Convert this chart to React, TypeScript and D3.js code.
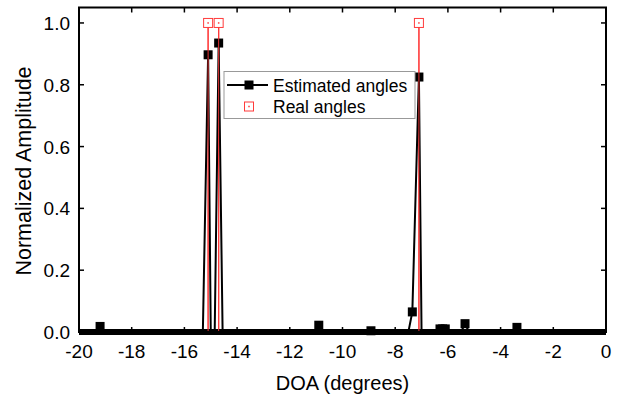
import React from "react";
import * as d3 from "d3";

// Estimated angles (sparse samples of the spectrum)
const estX = [-20, -19.35, -19.2, -19.05, -15.3, -15.1, -15.0, -14.85, -14.7, -14.55, -11.05, -10.9, -10.75, -9.05, -8.92, -8.8, -7.5, -7.35, -7.1, -7.0, -6.4, -6.3, -6.2, -6.1, -6.0, -5.5, -5.35, -5.2, -3.5, -3.38, -3.25, 0];
const estY = [0, 0, 0.018, 0, 0, 0.897, 0, 0, 0.935, 0, 0, 0.022, 0, 0, 0.004, 0, 0, 0.065, 0.825, 0, 0, 0.01, 0.01, 0.01, 0, 0, 0.027, 0, 0, 0.015, 0, 0];

// Real angles
const realX = [-15.1, -14.7, -7.1];
const realY = [1, 1, 1];

const xTicks = [-20, -18, -16, -14, -12, -10, -8, -6, -4, -2, 0];
const yTicks = [0, 0.2, 0.4, 0.6, 0.8, 1.0];

const seriesNames = ["Estimated angles", "Real angles"];

const W = 622, H = 404;
const L = 79, R = 606, T = 7.5, B = 332;
const FONT = "'Liberation Sans', Arial, sans-serif";
const RED = "#ff3b3b";

export default function App() {
  const x = d3.scaleLinear().domain([-20, 0]).range([L, R]);
  const y = d3.scaleLinear().domain([0, 1.05]).range([B, T]);
  const est = estX.map((v, i) => ({ x: v, y: estY[i] }));
  const real = realX.map((v, i) => ({ x: v, y: realY[i] }));
  const line = d3.line<{ x: number; y: number }>().x(d => x(d.x)).y(d => y(d.y));
  const ms = 9;
  const zs = 6; // height of the overlapping zero-level symbols band
  const tl = 5;
  const xs = d3.extent(estX) as [number, number];

  return (
    <svg width={W} height={H} style={{ position: "absolute", left: 0, top: 0, background: "#fff" }} fontFamily={FONT}>
      <rect x={0} y={0} width={W} height={H} fill="#fff" />
      {/* real angle drop lines */}
      {real.map((d, i) => (
        <line key={"rl" + i} x1={x(d.x)} x2={x(d.x)} y1={y(0)} y2={y(d.y)} stroke={RED} strokeWidth={1.3} />
      ))}
      {/* estimated line */}
      <path d={line(est) || ""} fill="none" stroke="#000" strokeWidth={2} strokeLinejoin="miter" />
      {/* zero-level symbols (densely overlapping) */}
      <rect x={x(xs[0])} y={y(0) - zs / 2} width={x(xs[1]) - x(xs[0])} height={zs} fill="#000" />
      {est.filter(d => d.y > 0).map((d, i) => (
        <rect key={"em" + i} x={x(d.x) - ms / 2} y={y(d.y) - ms / 2} width={ms} height={ms} fill="#000" />
      ))}
      {/* real markers */}
      {real.map((d, i) => (
        <g key={"rm" + i}>
          <rect x={x(d.x) - ms / 2} y={y(d.y) - ms / 2} width={ms} height={ms} fill="#fff" stroke={RED} strokeWidth={1} />
          <rect x={x(d.x) - 0.75} y={y(d.y) - 0.75} width={1.5} height={1.5} fill={RED} />
        </g>
      ))}
      {/* red line visible over black segments */}
      {real.map((d, i) => (
        <line key={"rl2" + i} x1={x(d.x)} x2={x(d.x)} y1={y(0)} y2={y(d.y) + ms / 2} stroke={RED} strokeWidth={1} strokeOpacity={0.9} />
      ))}

      {/* frame */}
      <rect x={L} y={T} width={R - L} height={B - T} fill="none" stroke="#000" strokeWidth={2} />
      {xTicks.map(t => (
        <g key={"xt" + t}>
          <line x1={x(t)} x2={x(t)} y1={B} y2={B - tl} stroke="#000" strokeWidth={1.5} />
          <line x1={x(t)} x2={x(t)} y1={T} y2={T + tl} stroke="#000" strokeWidth={1.5} />
          <text x={x(t)} y={B + 26} fontSize={19} textAnchor="middle" fill="#000">{t === 0 ? "0" : String(t)}</text>
        </g>
      ))}
      {yTicks.map(t => (
        <g key={"yt" + t}>
          <line x1={L} x2={L + tl} y1={y(t)} y2={y(t)} stroke="#000" strokeWidth={1.5} />
          <line x1={R} x2={R - tl} y1={y(t)} y2={y(t)} stroke="#000" strokeWidth={1.5} />
          <text x={L - 9} y={y(t) + 7} fontSize={19} textAnchor="end" fill="#000">{t.toFixed(1)}</text>
        </g>
      ))}
      <text x={(L + R) / 2} y={390} fontSize={20} textAnchor="middle" fill="#000">DOA (degrees)</text>
      <text transform={`translate(31,171) rotate(-90)`} fontSize={21.5} textAnchor="middle" fill="#000">Normalized Amplitude</text>

      {/* legend */}
      <rect x={224} y={71.5} width={191} height={47} fill="#fff" stroke="#999" strokeWidth={1} />
      <line x1={227} x2={268} y1={85} y2={85} stroke="#000" strokeWidth={2} />
      <rect x={249 - ms / 2} y={85 - ms / 2} width={ms} height={ms} fill="#000" />
      <text x={273} y={91.5} fontSize={17.5} fill="#000">{seriesNames[0]}</text>
      <rect x={249 - ms / 2} y={106.5 - ms / 2} width={ms} height={ms} fill="#fff" stroke={RED} strokeWidth={1} />
      <rect x={249 - 0.75} y={106.5 - 0.75} width={1.5} height={1.5} fill={RED} />
      <text x={273} y={113} fontSize={17.5} fill="#000">{seriesNames[1]}</text>
    </svg>
  );
}
